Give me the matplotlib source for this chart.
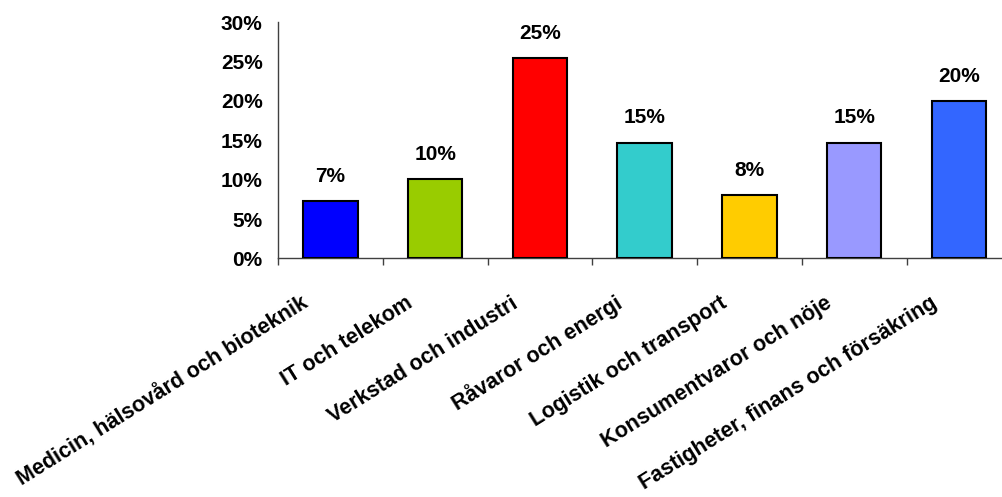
import matplotlib
matplotlib.use("Agg")
import matplotlib.pyplot as plt
from matplotlib.ticker import FuncFormatter, FixedLocator
from matplotlib.transforms import ScaledTranslation

categories = [
    "Medicin, hälsovård och bioteknik",
    "IT och telekom",
    "Verkstad och industri",
    "Råvaror och energi",
    "Logistik och transport",
    "Konsumentvaror och nöje",
    "Fastigheter, finans och försäkring",
]
shares = [7.3, 10.1, 25.4, 14.7, 8.0, 14.7, 20.0]
colors = ["#0000FF", "#99CC00", "#FF0000", "#33CCCC", "#FFCC00", "#9999FF", "#3366FF"]
y_ticks = [0, 5, 10, 15, 20, 25, 30]

plt.rcParams["font.family"] = ["Liberation Sans", "DejaVu Sans"]
plt.rcParams["font.weight"] = "bold"

fig = plt.figure(figsize=(10.02, 4.97), dpi=100)
ax = fig.add_axes([0.2774, 0.480, 0.732, 0.4755])

x = list(range(len(categories)))
ax.bar(x, shares, width=0.52, color=colors, edgecolor="black", linewidth=1.5, zorder=3)

for xi, v in zip(x, shares):
    ax.annotate(f"{v:.0f}%", (xi, v), xytext=(0, 11), textcoords="offset points",
                ha="center", va="bottom", fontsize=15, fontweight="bold")

ax.set_xlim(-0.5, 6.5)
ax.set_ylim(0, 30)
ax.set_yticks(y_ticks)
ax.yaxis.set_major_formatter(FuncFormatter(lambda v, p: f"{v:.0f}%"))
ax.tick_params(axis="y", length=0, pad=11, labelsize=15)

# category boundaries carry the tick marks, labels sit at category centres
ax.xaxis.set_major_locator(FixedLocator([i - 0.5 for i in range(len(categories) + 1)]))
ax.set_xticklabels([])
ax.set_xticks(x, minor=True)
ax.set_xticklabels(categories, minor=True, rotation=32, ha="right", va="baseline",
                   rotation_mode="anchor", fontsize=15.5, fontweight="bold")
ax.tick_params(axis="x", which="major", length=5, width=1, color="#404040", direction="out")
ax.tick_params(axis="x", which="minor", length=0, pad=0)

# put the baseline end of each rotated label just left of and below its category centre
offset = ScaledTranslation(-21 / 100, -48 / 100, fig.dpi_scale_trans)
for lbl in ax.get_xticklabels(minor=True):
    lbl.set_transform(lbl.get_transform() + offset)

for side in ("top", "right"):
    ax.spines[side].set_visible(False)
for side in ("left", "bottom"):
    ax.spines[side].set_color("#404040")
    ax.spines[side].set_linewidth(1)

fig.savefig("out.png", dpi=100)
